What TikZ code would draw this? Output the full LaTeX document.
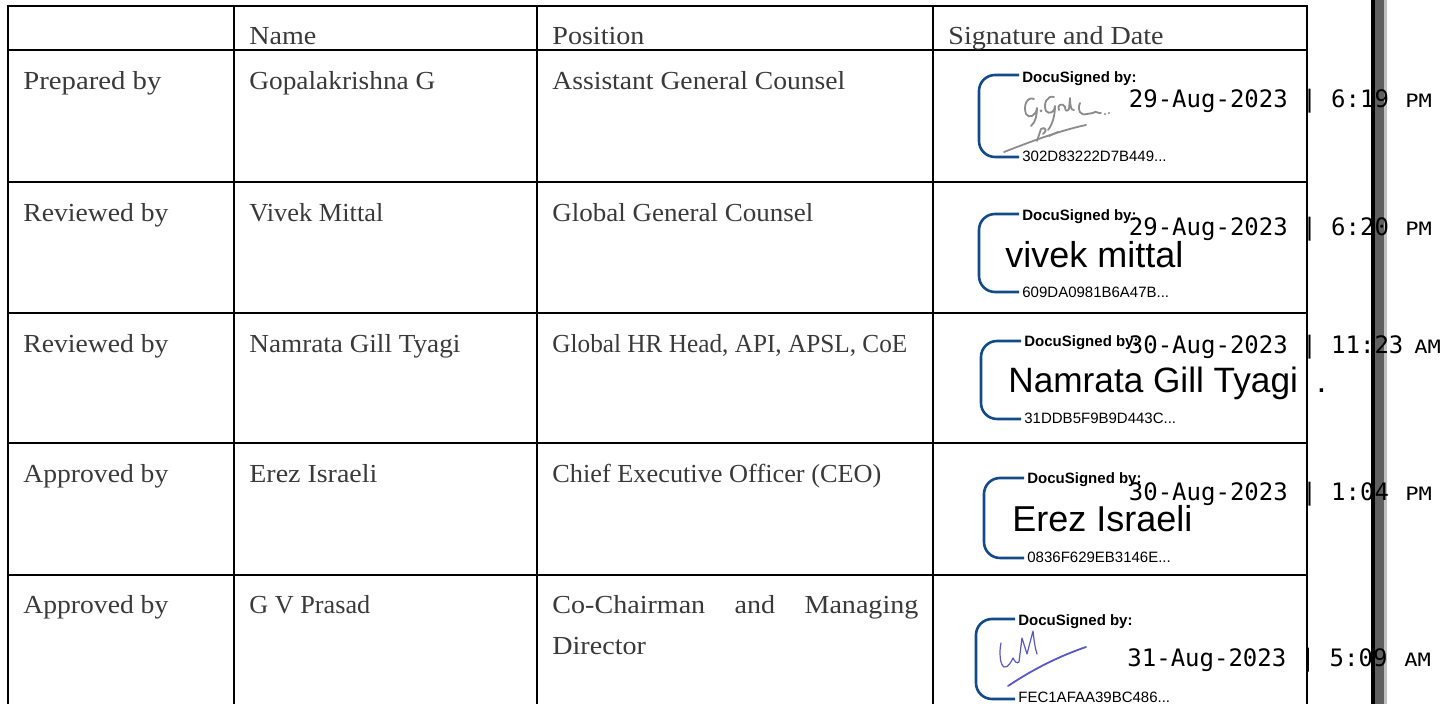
\documentclass[tikz,border=0pt]{standalone}
\usepackage{graphicx}
\usepackage{fontspec}
\setmainfont[FakeStretch=1.08]{Liberation Serif}
\newfontfamily\sigsans{Liberation Sans}
\newfontfamily\datemono{DejaVu Sans Mono}
\newfontfamily\ampmmono[FakeStretch=1.2]{DejaVu Sans Mono}
\newcommand\fitbox[2]{\resizebox{#1}{\height}{#2}}
\definecolor{txtgray}{RGB}{58,58,58}
\definecolor{docublue}{RGB}{18,74,138}
\definecolor{barblack}{RGB}{0,0,0}
\definecolor{bargray}{RGB}{96,96,96}
\definecolor{barlight}{RGB}{192,192,192}
\definecolor{sigink}{RGB}{140,140,140}
\definecolor{blueink}{RGB}{88,88,205}
\tikzset{
 gridline/.style={line width=1.2pt, draw=black},
 cell/.style={anchor=base west, inner sep=0pt, text=txtgray, font=\fontsize{13pt}{16pt}\selectfont},
 datetxt/.style={anchor=base west, inner sep=0pt, font=\datemono\fontsize{12pt}{14pt}\selectfont},
 ampm/.style={anchor=base west, inner sep=0pt, font=\ampmmono\fontsize{9.2pt}{11pt}\selectfont},
 docuhead/.style={anchor=base west, inner sep=0pt, font=\sigsans\bfseries\fontsize{7.5pt}{9pt}\selectfont},
 docuhash/.style={anchor=base west, inner sep=0pt, font=\sigsans\fontsize{7.5pt}{9pt}\selectfont},
 signame/.style={anchor=base west, inner sep=0pt, font=\sigsans\fontsize{18pt}{21pt}\selectfont},
 bracket/.style={draw=docublue, line width=1.3pt, rounded corners=8pt},
 pen/.style={draw=sigink, line width=0.9pt, line cap=round, line join=round},
 bluepen/.style={draw=blueink, line width=0.6pt, line cap=round, line join=round},
}
\begin{document}
\begin{tikzpicture}[x=0.5pt,y=-0.5pt]
\useasboundingbox (0,0) rectangle (1448,704);
\fill[white] (0,0) rectangle (1448,704);

% right-hand page edge bar (texts lie over it)
\fill[barblack] (1371,-2) rectangle (1375,708);
\fill[bargray] (1375,-2) rectangle (1384,708);
\fill[barlight] (1384,-2) rectangle (1387,708);

% table grid
\foreach \yy in {6,50,182,313,443,575} {\draw[gridline] (7.4,\yy) -- (1307.6,\yy);}
\foreach \xx in {8,234,537,933,1307} {\draw[gridline] (\xx,6) -- (\xx,708);}

% header
\node[cell] (hname) at (249,45) {Name};
\node[cell] (hpos) at (552,45) {Position};
\node[cell] (hsig) at (948,45) {Signature and Date};

% row 1
\node[cell] (r1a) at (23,90) {\fitbox{69pt}{Prepared by}};
\node[cell] (r1b) at (249,90) {\fitbox{93pt}{Gopalakrishna G}};
\node[cell] (r1c) at (552,90) {\fitbox{146.5pt}{Assistant General Counsel}};
% row 2
\node[cell] (r2a) at (23,222) {\fitbox{72.5pt}{Reviewed by}};
\node[cell] (r2b) at (249,222) {\fitbox{67pt}{Vivek Mittal}};
\node[cell] (r2c) at (552,222) {\fitbox{130.5pt}{Global General Counsel}};
% row 3
\node[cell] (r3a) at (23,353) {\fitbox{72.5pt}{Reviewed by}};
\node[cell] (r3b) at (249,353) {\fitbox{105.5pt}{Namrata Gill Tyagi}};
\node[cell] (r3c) at (552,353) {\fitbox{177.5pt}{Global HR Head, API, APSL, CoE}};
% row 4
\node[cell] (r4a) at (23,483) {\fitbox{72.5pt}{Approved by}};
\node[cell] (r4b) at (249,483) {\fitbox{64pt}{Erez Israeli}};
\node[cell] (r4c) at (552,483) {\fitbox{164.5pt}{Chief Executive Officer (CEO)}};
% row 5
\node[cell] (r5a) at (23,614) {\fitbox{72.5pt}{Approved by}};
\node[cell] (r5b) at (249,614) {\fitbox{60.5pt}{G V Prasad}};
\node[cell] (r5c) at (552,614) {\hbox to 183pt{Co-Chairman\hfill and\hfill Managing}};
\node[cell] (r5d) at (552,655) {Director};

% ---------- DocuSign blocks ----------
% row 1
\draw[bracket] (1019,75) -- (979,75) -- (979,157) -- (1019,157);
\node[docuhead] (d1h) at (1022,83) {DocuSigned by:};
\node[docuhash] (d1x) at (1022,162) {302D83222D7B449...};
\draw[pen] (1034,99) .. controls (1027,96) and (1023,106) .. (1026,114) .. controls (1029,119) and (1036,116) .. (1037,108) .. controls (1037,114) and (1036,122) .. (1031,126);
\fill[sigink] (1041,111) circle (1.5);
\draw[pen] (1054,97) .. controls (1047,95) and (1043,104) .. (1046,111) .. controls (1049,115) and (1055,112) .. (1055,106) .. controls (1055,114) and (1053,124) .. (1048,130);
\draw[pen] (1059,110) .. controls (1056,105) and (1063,102) .. (1065,107) .. controls (1065,111) and (1067,112) .. (1069,109) -- (1070,98) .. controls (1070,105) and (1071,111) .. (1074,110);
\draw[pen] (1080,103) .. controls (1077,110) and (1080,116) .. (1087,114) -- (1093,113) .. controls (1096,110) and (1098,114) .. (1101,113);
\fill[sigink] (1105,114) circle (1.2);
\fill[sigink] (1109,113) circle (1.2);
\draw[pen] (1004,152) .. controls (1030,142) and (1058,131) .. (1086,125);
\draw[pen] (1037,141) -- (1041,129) .. controls (1045,126) and (1048,131) .. (1043,134);
\draw[pen] (1049,136) -- (1058,132);
\node[datetxt] (t1) at (1128.5,108) {29-Aug-2023 | 6:19};
\node[ampm] (p1) at (1405,108) {PM};

% row 2
\draw[bracket] (1019,214) -- (979,214) -- (979,292) -- (1019,292);
\node[docuhead] (d2h) at (1022,221) {DocuSigned by:};
\node[docuhash] (d2x) at (1022,298) {609DA0981B6A47B...};
\node[signame] (s2) at (1005,268) {vivek mittal};
\node[datetxt] (t2) at (1128.5,236) {29-Aug-2023 | 6:20};
\node[ampm] (p2) at (1405,236) {PM};

% row 3
\draw[bracket] (1021,341) -- (981,341) -- (981,419) -- (1021,419);
\node[docuhead] (d3h) at (1024,347) {DocuSigned by:};
\node[docuhash] (d3x) at (1024,424) {31DDB5F9B9D443C...};
\node[signame, font=\sigsans\fontsize{17.6pt}{21pt}\selectfont] (s3) at (1008,393) {Namrata Gill Tyagi\hspace{4.5pt} .};
\node[datetxt] (t3) at (1128.5,354) {30-Aug-2023 | 11:23};
\node[ampm] (p3) at (1414,354) {AM};

% row 4
\draw[bracket] (1024,478) -- (984,478) -- (984,558) -- (1024,558);
\node[docuhead] (d4h) at (1027,484) {DocuSigned by:};
\node[docuhash] (d4x) at (1027,563) {0836F629EB3146E...};
\node[signame] (s4) at (1012,532) {Erez Israeli};
\node[datetxt] (t4) at (1128.5,501) {30-Aug-2023 | 1:04};
\node[ampm] (p4) at (1405,501) {PM};

% row 5
\draw[bracket] (1015,619) -- (976,619) -- (976,699) -- (1015,699);
\node[docuhead] (d5h) at (1018,626) {DocuSigned by:};
\node[docuhash] (d5x) at (1018,703) {FEC1AFAA39BC486...};
\draw[bluepen] (1001,643) .. controls (999,652) and (1000,665) .. (1004,667) .. controls (1008,668) and (1011,662) .. (1013,658) .. controls (1015,662) and (1017,664) .. (1019,662) -- (1022,638) -- (1027,654) -- (1033,631) .. controls (1034,640) and (1035,648) .. (1037,654);
\draw[bluepen, line width=0.9pt] (1008,686) .. controls (1035,668) and (1060,656) .. (1086,647);
\node[datetxt] (t5) at (1127,667) {31-Aug-2023 | 5:09};
\node[ampm] (p5) at (1404,667) {AM};
\end{tikzpicture}
\end{document}
